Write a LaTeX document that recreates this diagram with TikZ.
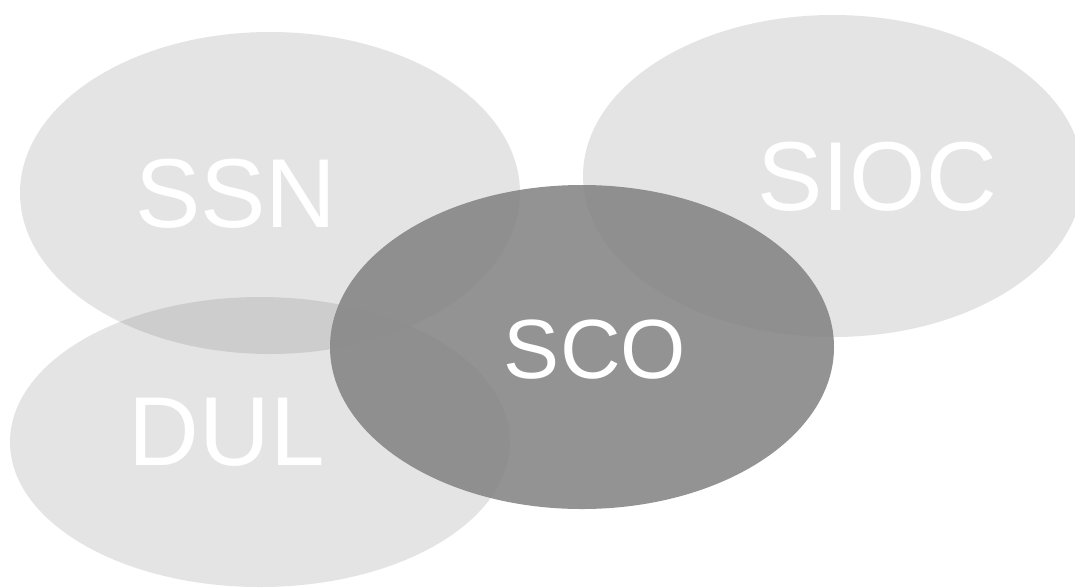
\documentclass[tikz,border=0pt]{standalone}
\usepackage{fontspec}
\setmainfont{Liberation Sans}
\begin{document}
\begin{tikzpicture}[x=1pt,y=-1pt,
  light/.style={fill={rgb,255:red,73;green,73;blue,73}, fill opacity=0.148},
  dark/.style={fill={rgb,255:red,135;green,135;blue,135}, fill opacity=0.9},
  bigtext/.style={text=white, font=\fontsize{98}{98}\selectfont, inner sep=0pt, anchor=center},
  midtext/.style={text=white, font=\fontsize{84}{84}\selectfont, inner sep=0pt, anchor=center}]
\useasboundingbox (0,0) rectangle (1075,587);
\clip (0,0) rectangle (1075,587);
\fill[light] (270,193) ellipse [x radius=250, y radius=161];
\fill[light] (833,176) ellipse [x radius=250, y radius=161];
\fill[light] (260,442) ellipse [x radius=250, y radius=145];
\fill[dark] (582,347) ellipse [x radius=252, y radius=162];
\node[bigtext] (ssn) at (236,194) {SSN};
\node[bigtext] (sioc) at (877,177) {SIOC};
\node[bigtext] (dul) at (227,432) {DUL};
\node[midtext] (sco) at (595,350) {SCO};
\end{tikzpicture}
\end{document}
